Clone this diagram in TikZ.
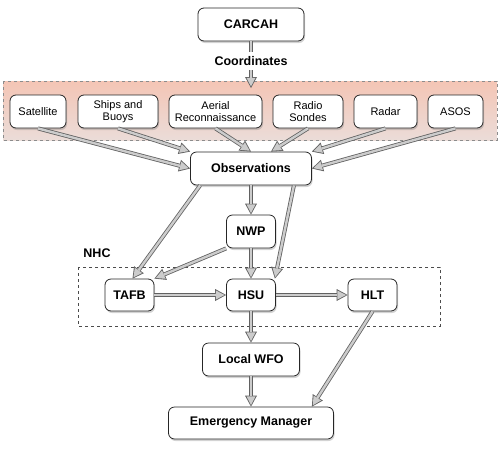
\documentclass[tikz,border=0pt]{standalone}
\usepackage{fontspec}
\setmainfont{Liberation Sans}
\usetikzlibrary{arrows.meta,shadows,positioning}
\definecolor{bandtop}{HTML}{F4C5B5}
\definecolor{bandbot}{HTML}{EBDCD8}

\begin{document}
\begin{tikzpicture}[
                    x=1pt, y=-1pt,
                box/.style={draw=black!85, fill=white, rounded corners=6pt, line width=0.8pt,
                    minimum height=33pt, inner sep=2pt,
                    font=\fontsize{12.5}{14}\selectfont\bfseries,
                    drop shadow={shadow xshift=1pt, shadow yshift=-2pt, opacity=0.35}},
                src/.style={box, align=center, font=\fontsize{11}{12.5}\selectfont},
                lbl/.style={fill=white, inner xsep=1pt, inner ysep=4pt,
                    font=\fontsize{12.5}{14}\selectfont\bfseries},
                arr/.style={line width=4pt, draw=black!62,
                    -{Triangle[length=11pt, width=12pt, line width=0pt]},
                    postaction={draw=black!20, line width=2.4pt, shorten >=1.6pt,
                    -{Triangle[length=8.6pt, width=9pt, line width=0pt]}}}]

                \useasboundingbox (0,0) rectangle (500,453);

                % observing platforms and NHC frames
                \shade[top color=bandtop, bottom color=bandbot] (3,81) rectangle (497,140);
                \draw[dashed, black!45] (3,81) rectangle (497,140);
                \draw[dashed, black!70] (78,267) rectangle (440,326);
                \draw(97,253) node[lbl, fill=none] (nhc) {NHC};

                \draw(251,24.5) node[box, minimum width=106pt] (carcah) {CARCAH};
                \coordinate (bandin) at (251,88);

                \draw(38,111.5) node[src, minimum width=56pt] (sat) {Satellite};
                \draw(118,111.5) node[src, minimum width=80pt] (ships) {Ships and\\Buoys};
                \draw(215.5,111.5) node[src, minimum width=93pt] (aerial) {Aerial\\Reconnaissance};
                \draw(308,111.5) node[src, minimum width=70pt] (radio) {Radio\\Sondes};
                \draw(385.5,111.5) node[src, minimum width=63pt] (radar) {Radar};
                \draw(455.5,111.5) node[src, minimum width=55pt] (asos) {ASOS};

                \draw(251,168.5) node[box, minimum width=121pt] (obs) {Observations};
                \draw(251,231.5) node[box, minimum width=49pt] (nwp) {NWP};
                \draw(129.5,295) node[box, minimum width=49pt, minimum height=32pt] (tafb) {TAFB};
                \draw(251,295) node[box, minimum width=49pt, minimum height=32pt] (hsu) {HSU};
                \draw(372.5,295) node[box, minimum width=49pt, minimum height=32pt] (hlt) {HLT};
                \draw(251,359.5) node[box, minimum width=97pt] (wfo) {Local WFO};
                \draw(251,423) node[box, minimum width=165pt, minimum height=32pt] (em) {Emergency Manager};

                \draw[arr] (carcah.south) -- node[lbl, pos=.42] (crd) {Coordinates} (bandin);

                \draw[arr] (sat.south) -- (obs.west);
                \draw[arr] (ships.south) -- (obs.north west);
                \draw[arr] (aerial.south) -- (obs.north);
                \draw[arr] (radio.south) -- ([xshift=20pt]obs.north);
                \draw[arr] (radar.south) -- (obs.north east);
                \draw[arr] (asos.south) -- (obs.east);

                \draw[arr] ([xshift=10pt]obs.south west) -- ([xshift=3pt]tafb.north);
                \draw[arr] (obs) -- (nwp);
                \draw[arr] ([xshift=-18pt]obs.south east) -- ([xshift=-1pt]hsu.north east);
                \draw[arr] (nwp.south west) -- (tafb.north east);
                \draw[arr] (nwp) -- (hsu);
                \draw[arr] (tafb) -- (hsu);
                \draw[arr] (hsu) -- (hlt);
                \draw[arr] (hsu) -- (wfo);
                \draw[arr] (wfo) -- (em);
                \draw[arr] (hlt.south) -- ([xshift=-22pt]em.north east);

            \end{tikzpicture}
\end{document}
